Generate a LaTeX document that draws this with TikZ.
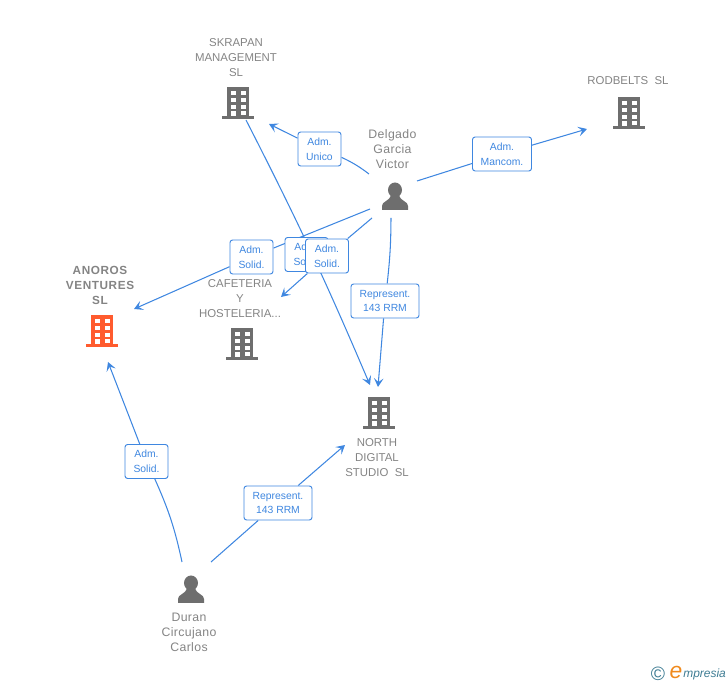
\documentclass[tikz,border=0pt]{standalone}
\usepackage{fontspec}
\setmainfont{Liberation Sans}
\usetikzlibrary{arrows.meta}
\usetikzlibrary{backgrounds}
\definecolor{linkblue}{HTML}{3F87E0}
\definecolor{icongray}{HTML}{6E6E6E}
\definecolor{textgray}{HTML}{848484}
\definecolor{mainorange}{HTML}{FF5B2E}
\definecolor{logoblue}{HTML}{3E7C93}
\definecolor{logoorange}{HTML}{F08A1D}
\tikzstyle{company}=[text=textgray,font=\fontsize{6.5}{8.5}\selectfont,align=center,inner sep=0pt]
\tikzstyle{maincompany}=[company,font=\fontsize{6.7}{8.5}\selectfont\bfseries\addfontfeature{LetterSpace=5}]
\tikzstyle{person}=[text=textgray,font=\fontsize{7}{8.5}\selectfont\addfontfeature{LetterSpace=3},align=center,inner sep=0pt]
\tikzstyle{role}=[draw=linkblue,fill=white,rounded corners=1.5pt,text=linkblue,font=\fontsize{5.9}{8.5}\selectfont,align=center,inner sep=0pt,line width=0.55pt]
\tikzstyle{link}=[linkblue,line width=0.6pt,-{Stealth[length=5pt,width=5.5pt,inset=2.2pt]}]
\tikzstyle{linkstart}=[linkblue,line width=0.6pt]
\tikzset{
  building/.pic={
    \fill (-11,-16) rectangle (11,14);
    \fill (-16,13) rectangle (16,16);
    \foreach \wx in {-7,3} \foreach \wy in {-12,-5,2}
      \fill[white] (\wx,\wy) rectangle ++(5,4);
    \fill[white] (3,8.5) rectangle ++(5,3.5);
    \fill[white] (-7,8.5) rectangle ++(5,4.5);
  },
  silhouette/.pic={
    \fill (0,-7) ellipse (7 and 7.5);
    \fill (-13,13) -- (-13,9) .. controls (-13,4) and (-6,5) .. (-4,-2) -- (4,-2) .. controls (6,5) and (13,4) .. (13,9) -- (13,13) -- cycle;
  }
}

\begin{document}
\begin{tikzpicture}[x=0.02cm,y=-0.02cm]
\useasboundingbox (0,0) rectangle (728,685);

%Companies
  \foreach \pos/\name/\label in {{(236,58)/skrapanlabel/{SKRAPAN\\MANAGEMENT\\SL}}, {(628,81)/rodbeltslabel/{RODBELTS\ \ SL}}, {(240,299)/cafeterialabel/{CAFETERIA\\Y\\HOSTELERIA...}}, {(377,458)/northlabel/{NORTH\\DIGITAL\\STUDIO\ \ SL}}}
      \node[company] (\name) at \pos {\label};
  \node[maincompany] (anoroslabel) at (100,285.5) {ANOROS\\VENTURES\\SL};

  \foreach \pos/\name in {{(238,103)/skrapan}, {(629,113)/rodbelts}, {(242,344)/cafeteria}, {(379,413)/north}}
      \pic[icongray] (\name) at \pos {building};
  \pic[mainorange] (anoros) at (102,331) {building};

%People
  \node[person] (delgadolabel) at (392.5,149) {Delgado\\Garcia\\Victor};
  \node[person] (duranlabel) at (189,632) {Duran\\Circujano\\Carlos};
  \pic[icongray] (delgado) at (395,197) {silhouette};
  \pic[icongray] (duran) at (191,590) {silhouette};

%Roles
  \foreach \pos/\name/\boxw/\label in {{(319.5,149)/unico/43/{Adm.\\Unico}}, {(502,154)/mancom/59/{Adm.\\Mancom.}}, {(251.5,257)/solanoros/43/{Adm.\\Solid.}}, {(306.5,254.5)/solnorth/43/{Adm.\\Solid.}}, {(327,256)/solcafe/43/{Adm.\\Solid.}}, {(385,301)/rep/68/{Represent.\\143 RRM}}, {(146.5,461.5)/solduran/43/{Adm.\\Solid.}}, {(278,503)/repduran/68/{Represent.\\143 RRM}}}
      \node[role,minimum width=\boxw*0.02cm,minimum height=0.68cm] (\name) at \pos {\label};

%Free ends
  \foreach \pos/\name in {{(369,174)/a}, {(269,124)/b}, {(417,181)/c}, {(587,129)/d}, {(370,209)/e}, {(134,309)/f}, {(372,218)/g}, {(281,297)/h}, {(391,218)/i}, {(378,387)/j}, {(246,120)/k}, {(370,385)/l}, {(182,562)/m}, {(108,362)/n}, {(211,562)/o}, {(345,445)/p}}
      \path \pos coordinate (\name);

%Connectors
  \begin{pgfonlayer}{background}
  \foreach \source/\dest/\curve in {a/unico/-6, c/mancom/0, e/solanoros/0, g/solcafe/0, i/rep/3, m/solduran/-6, o/repduran/0}
      \draw[linkstart] (\source) to[bend left=\curve] (\dest);
  \foreach \source/\dest in {unico/b, mancom/d, solanoros/f, solcafe/h, rep/j, solduran/n, repduran/p}
      \draw[link] (\source) -- (\dest);
  \draw[link] (k) to[bend left=2] (l);
  \end{pgfonlayer}

%Logo
  \node[text=logoblue,font=\fontsize{11}{11}\selectfont,inner sep=0pt] (logomark) at (658,674) {©};
  \node[text=logoorange,font=\fontsize{13}{13}\selectfont\itshape,inner sep=0pt] (logoe) at (676,672.5) {e};
  \node[text=logoblue,font=\fontsize{6.8}{8}\selectfont\itshape,inner sep=0pt,anchor=west] (logoname) at (683,674.5) {mpresia};
\end{tikzpicture}
\end{document}
